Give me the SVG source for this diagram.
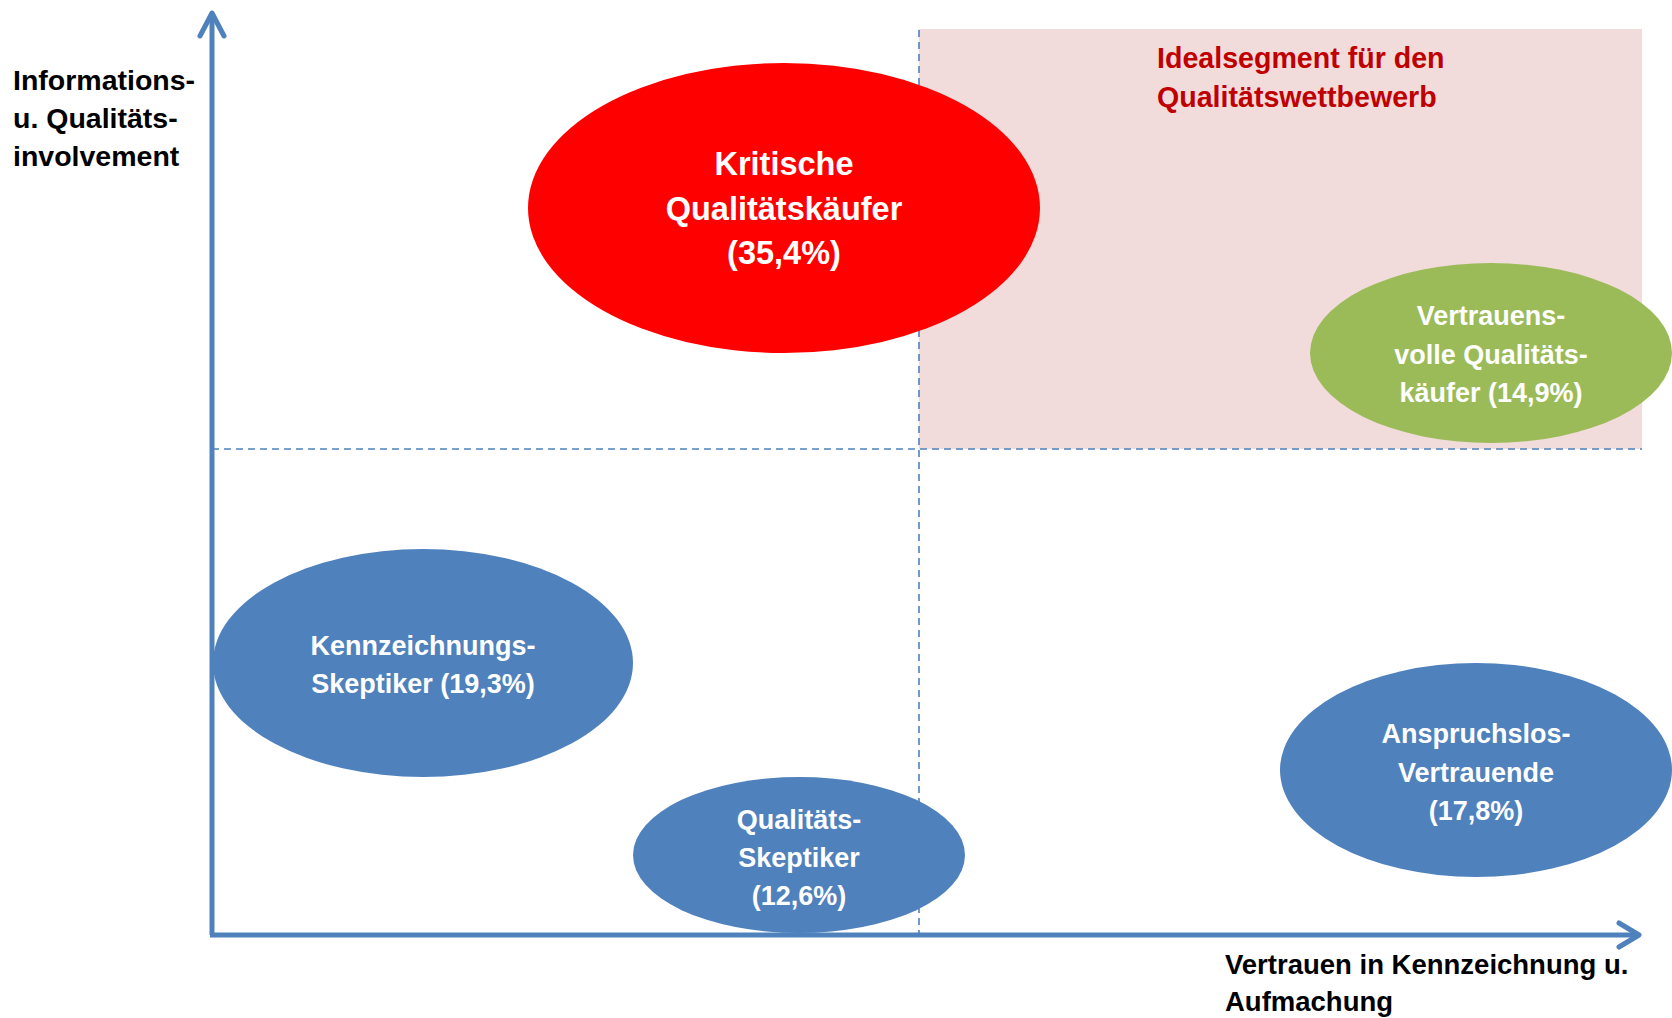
<svg xmlns="http://www.w3.org/2000/svg" width="1672" height="1018" viewBox="0 0 1672 1018">
<style>
.axis{stroke:#4F81BD;stroke-width:5;fill:none}
.head{stroke:#4F81BD;stroke-width:5;fill:none;stroke-linecap:round;stroke-linejoin:round}
.dash{stroke:#4F81BD;stroke-width:1.6;stroke-dasharray:7 5;fill:none}
.lbl{font-family:"Liberation Sans",Arial,sans-serif;font-weight:bold;font-size:28.5px;fill:#000}
.xl{font-size:27.5px}
.w{font-family:"Liberation Sans",Arial,sans-serif;font-weight:bold;font-size:27px;fill:#fff;text-anchor:middle}
.big{font-size:32.5px}
.red{font-family:"Liberation Sans",Arial,sans-serif;font-weight:bold;font-size:28.6px;fill:#C00000}
</style>
<rect width="1672" height="1018" fill="#fff"/>
<g id="ideal-segment">
<rect x="919" y="29" width="723" height="420" fill="#F2DCDB"/>
<text class="red" x="1157" y="68">Idealsegment für den</text>
<text class="red" x="1157" y="107">Qualitätswettbewerb</text>
</g>
<g id="connectors">
<line class="dash" x1="212" y1="449" x2="1642" y2="449"/>
<line class="dash" x1="919" y1="30" x2="919" y2="935"/>
<line class="axis" x1="212" y1="935" x2="212" y2="14"/>
<polyline class="head" points="200,36 212,13 224,36"/>
<line class="axis" x1="210" y1="935" x2="1636" y2="935"/>
<polyline class="head" points="1619,923 1639,935 1619,947"/>
</g>
<g id="y-label">
<text class="lbl" x="13" y="90">Informations-</text>
<text class="lbl" x="13" y="128">u. Qualitäts-</text>
<text class="lbl" x="13" y="166">involvement</text>
</g>
<g id="x-label">
<text class="lbl xl" x="1225" y="974">Vertrauen in Kennzeichnung u.</text>
<text class="lbl xl" x="1225" y="1011">Aufmachung</text>
</g>
<g id="kritische">
<ellipse cx="784" cy="208" rx="256" ry="145" fill="#FF0000"/>
<text class="w big" x="784" y="175">Kritische</text>
<text class="w big" x="784" y="220">Qualitätskäufer</text>
<text class="w big" x="784" y="264">(35,4%)</text>
</g>
<g id="vertrauensvolle">
<ellipse cx="1491" cy="353" rx="181" ry="90" fill="#9BBB59"/>
<text class="w" x="1491" y="325">Vertrauens-</text>
<text class="w" x="1491" y="364">volle Qualitäts-</text>
<text class="w" x="1491" y="402">käufer (14,9%)</text>
</g>
<g id="kennzeichnungs-skeptiker">
<ellipse cx="423" cy="663" rx="210" ry="114" fill="#4F81BD"/>
<text class="w" x="423" y="655">Kennzeichnungs-</text>
<text class="w" x="423" y="693">Skeptiker (19,3%)</text>
</g>
<g id="qualitaets-skeptiker">
<ellipse cx="799" cy="855" rx="166" ry="78" fill="#4F81BD"/>
<text class="w" x="799" y="829">Qualitäts-</text>
<text class="w" x="799" y="867">Skeptiker</text>
<text class="w" x="799" y="905">(12,6%)</text>
</g>
<g id="anspruchslos">
<ellipse cx="1476" cy="770" rx="196" ry="107" fill="#4F81BD"/>
<text class="w" x="1476" y="743">Anspruchslos-</text>
<text class="w" x="1476" y="782">Vertrauende</text>
<text class="w" x="1476" y="820">(17,8%)</text>
</g>
</svg>
